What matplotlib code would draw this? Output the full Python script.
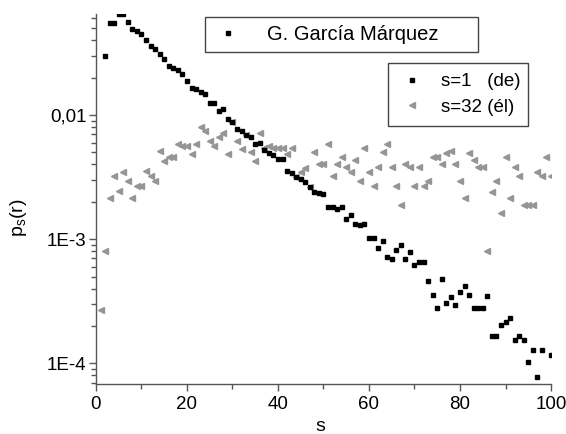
import numpy as np
import matplotlib
matplotlib.use('Agg')
import matplotlib.pyplot as plt
from matplotlib.lines import Line2D
from matplotlib.ticker import FixedLocator, LogLocator, FuncFormatter, MultipleLocator

plt.rcParams['font.family'] = ['Liberation Sans', 'DejaVu Sans']
plt.rcParams['mathtext.fontset'] = 'custom'
plt.rcParams['mathtext.rm'] = 'Liberation Sans'

# s = 1 (de), distances 2..100 (s=99 has no point)
s_de = np.arange(2, 101)
p_de = [0.0299, 0.0553, 0.0553, 0.065, 0.065, 0.0561, 0.0495, 0.0477, 0.0447,
        0.0404, 0.0359, 0.0338, 0.0308, 0.0284, 0.0249, 0.0238, 0.0230, 0.0213,
        0.0188, 0.0164, 0.0163, 0.0154, 0.0147, 0.0126, 0.0126, 0.0108, 0.0112,
        0.00933, 0.00883, 0.00767, 0.00743, 0.00690, 0.00669, 0.00584, 0.00598,
        0.00523, 0.00497, 0.00476, 0.00440, 0.00440, 0.00356, 0.00340, 0.00319,
        0.00304, 0.00289, 0.00262, 0.00239, 0.00234, 0.00231, 0.00183, 0.00183,
        0.00174, 0.00181, 0.00145, 0.00156, 0.00132, 0.00129, 0.00132, 0.00102,
        0.00102, 0.000844, 0.000968, 0.000719, 0.000693, 0.000818, 0.000897,
        0.000693, 0.000789, 0.000616, 0.000659, 0.000651, 0.000463, 0.000356,
        0.000281, 0.000475, 0.000308, 0.000344, 0.000294, 0.000374, 0.000420,
        0.000356, 0.000281, 0.000281, 0.000281, 0.000349, 0.000166, 0.000166,
        0.000205, 0.000216, 0.000231, 0.000154, 0.000166, 0.000154, 0.000103,
        0.000128, 7.73e-5, 0.000128, np.nan, 0.000116]

# s = 32 (él), distances 1..100
s_el = np.arange(1, 101)
p_el = [0.000269, 0.000807, 0.00216, 0.00323, 0.00244, 0.00349, 0.00296, 0.00216,
        0.00270, 0.00270, 0.00352, 0.00323, 0.00296, 0.00510, 0.00427, 0.00456,
        0.00456, 0.00587, 0.00563, 0.00563, 0.00485, 0.00587, 0.00805, 0.00748,
        0.00618, 0.00563, 0.00665, 0.00720, 0.00485, 0.00883, 0.00612, 0.00532,
        0.00690, 0.00507, 0.00427, 0.00720, 0.00542, 0.00568, 0.00542, 0.00540,
        0.00540, 0.00485, 0.00540, 0.00319, 0.00349, 0.00372, 0.00262, 0.00507,
        0.00403, 0.00403, 0.00584, 0.00323, 0.00403, 0.00456, 0.00379, 0.00348,
        0.00434, 0.00296, 0.00540, 0.00348, 0.00268, 0.00379, 0.00507, 0.00581,
        0.00379, 0.00268, 0.00188, 0.00403, 0.00379, 0.00268, 0.00379, 0.00268,
        0.00294, 0.00456, 0.00456, 0.00403, 0.00492, 0.00513, 0.00403, 0.00294,
        0.00216, 0.00492, 0.00434, 0.00379, 0.00379, 0.000807, 0.00241, 0.00294,
        0.00162, 0.00456, 0.00216, 0.00379, 0.00323, 0.00188, 0.00188, 0.00188,
        0.00349, 0.00323, 0.00456, 0.00323]

tick_vals = [1e-4, 1e-3, 1e-2]
tick_txt = ['1E-4', '1E-3', '0,01']

fig = plt.figure(figsize=(5.66, 4.34), dpi=100)
ax = fig.add_axes([0.1696, 0.1152, 0.8039, 0.8525])

grey = '#959595'
ax.plot(s_el, p_el, ls='none', marker='<', ms=4.8, color=grey, mec=grey)
ax.plot(s_de, p_de, ls='none', marker='s', ms=3.2, color='black', mec='black')

ax.set_yscale('log')
ax.set_xlim(0, 100)
ax.set_ylim(6.83e-5, 0.065)

ax.spines['top'].set_visible(False)
ax.spines['right'].set_visible(False)
for sp in ['left', 'bottom']:
    ax.spines[sp].set_color('#555555')
    ax.spines[sp].set_linewidth(1.0)

ax.xaxis.set_major_locator(MultipleLocator(20))
ax.xaxis.set_minor_locator(MultipleLocator(10))
ax.yaxis.set_major_locator(FixedLocator(tick_vals))
ax.yaxis.set_major_formatter(FuncFormatter(lambda v, p: tick_txt[tick_vals.index(v)] if v in tick_vals else ''))
ax.yaxis.set_minor_locator(LogLocator(base=10, subs=np.arange(2, 10)))
ax.yaxis.set_minor_formatter(FuncFormatter(lambda v, p: ''))

ax.tick_params(which='major', direction='out', length=5, width=1, color='#555555',
               labelsize=13.5)
ax.tick_params(which='minor', direction='out', length=3.5, width=1, color='#555555')
ax.tick_params(axis='x', which='major', pad=3.5)
ax.tick_params(axis='y', which='major', pad=2)

ax.set_xlabel('s', fontsize=14)
ax.xaxis.set_label_coords(0.492, -0.092)
ax.set_ylabel(r'p$_{\mathregular{s}}$(r)', fontsize=14)
ax.yaxis.set_label_coords(-0.148, 0.45)

h1 = [Line2D([], [], ls='none', marker='s', ms=3.2, color='black')]
leg1 = ax.legend(h1, ['G. García Márquez'], loc='upper left',
                 bbox_to_anchor=(0.2396, 0.9, 0.6, 0.092), mode='expand',
                 borderaxespad=0, fancybox=False, framealpha=1, edgecolor='#444444',
                 fontsize=14.5, handlelength=1.5, handletextpad=1.2, borderpad=0.4)
leg1.get_frame().set_linewidth(1.0)
ax.add_artist(leg1)

h2 = [Line2D([], [], ls='none', marker='s', ms=3.2, color='black'),
      Line2D([], [], ls='none', marker='<', ms=4.8, color=grey)]
leg2 = ax.legend(h2, ['s=1   (de)', 's=32 (él)'], loc='upper left',
                 bbox_to_anchor=(0.6418, 0.6973, 0.3077, 0.1703), mode='expand',
                 borderaxespad=0, fancybox=False, framealpha=1, edgecolor='#444444',
                 fontsize=13.5, handlelength=1.5, handletextpad=0.75, borderpad=0.55,
                 labelspacing=0.45)
leg2.get_frame().set_linewidth(1.0)

fig.savefig('out.png', dpi=100)
